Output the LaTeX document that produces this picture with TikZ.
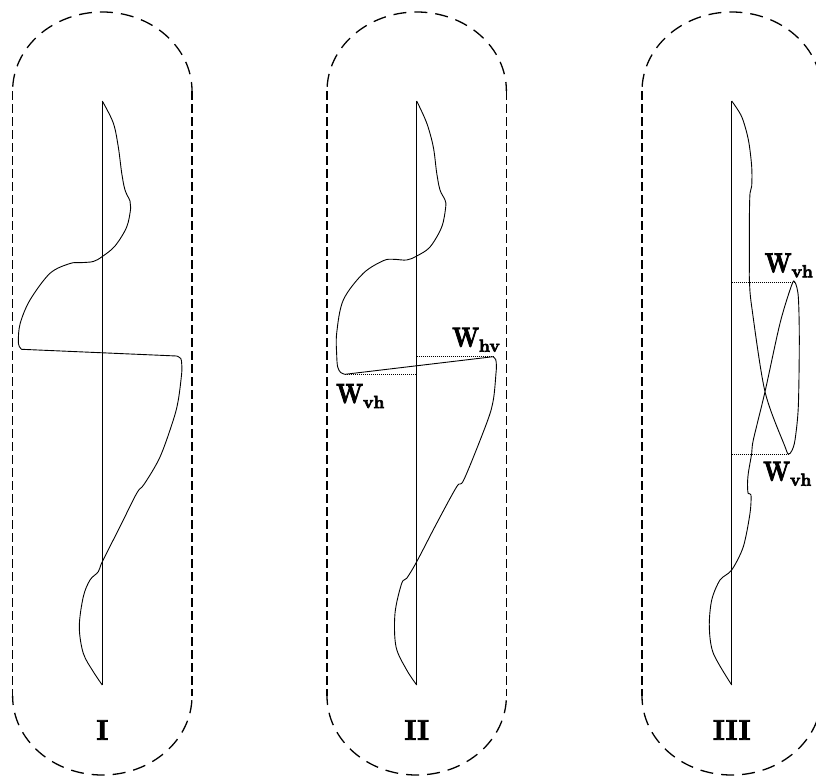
\documentclass[tikz,border=0pt]{standalone}
\usepackage{fontspec}
\usepackage{graphicx}
\newcommand\heavy[2]{\special{pdf:literal direct 2 Tr #1 w}#2\special{pdf:literal direct 0 Tr 1 w}}
\newcommand\Wsym{\scalebox{0.84}[1]{\bfseries\heavy{0.9}{W}}}
\newcommand\Wlab[1]{\fontsize{27.5}{29}\selectfont\Wsym\raisebox{-5pt}{\fontsize{17.5}{19}\selectfont\bfseries\heavy{0.6}{#1}}}
\newcommand\Numlab[1]{\fontsize{28.5}{30}\selectfont\bfseries\heavy{0.9}{#1}}
\tikzset{
  sideline/.style={draw, line width=1.3pt, dash pattern=on 8.5pt off 4.5pt},
  capline/.style={draw, line width=1.3pt, dash pattern=on 13pt off 8pt, dash phase=4pt},
  axisline/.style={draw, line width=1.3pt},
  profile/.style={draw, line width=0.9pt, line join=round},
  guide/.style={draw, line width=0.55pt, dash pattern=on 1pt off 1pt},
  numlab/.style={inner sep=0pt},
  wlab/.style={inner sep=0pt, anchor=base west}
}
\begin{document}
\begin{tikzpicture}[x=1pt, y=-1pt]
\useasboundingbox (0,0) rectangle (816,776);
\clip (0,0) rectangle (816,776);

% ---------- stadium outlines
\foreach \cx in {102.3, 416.7, 731.7} {
  \path[sideline] (\cx-89.7,91) -- (\cx-89.7,696);
  \path[sideline] (\cx+89.7,91) -- (\cx+89.7,696);
  \path[capline] (\cx-89.7,696)
     arc[start angle=180, end angle=0, x radius=89.7, y radius=79];
  \path[capline] (\cx+89.7,91)
     arc[start angle=0, end angle=-180, x radius=89.7, y radius=79];
}

% ---------- panel I
\begin{scope}[shift={(102.3,0)}]
  \coordinate (t1) at (0,101);
  \coordinate (b1) at (0,685);
  \path[axisline] (t1) -- (b1);
  \path[profile] plot[smooth, tension=0.55] coordinates {
    (0,101) (11,123) (16,147) (19.4,173) (22.7,190) (27.7,201) (28.4,208)
    (24.4,227) (12.7,246) (0,256.5) (-9,261.5) (-22.3,262.7) (-32.3,263.5)
    (-52.3,273.3) (-72.3,300) (-82,323) (-84,340) (-83,346.5) (-80.6,349.3)}
    -- plot[smooth, tension=0.55] coordinates {
    (74.4,356) (78.5,358.5) (79.4,364) (79.4,373) (76,400) (71,420)
    (57.7,457) (42,484) (34.4,493.3) (17.7,526.7) (0,561.7) (-4,571.7)
    (-12.3,580) (-19,596.7) (-23,626.7) (-19,653.3) (-9,671.7) (0,685)};
  \node[numlab] (n1) at (0,730) {\Numlab{I}};
\end{scope}

% ---------- panel II
\begin{scope}[shift={(416.7,0)}]
  \coordinate (t2) at (0,101);
  \coordinate (b2) at (0,685);
  \path[axisline] (t2) -- (b2);
  \path[profile] plot[smooth, tension=0.55] coordinates {
    (0,101) (10,123) (16.6,147) (20,173) (23.3,190) (28.3,200) (29,207)
    (25,227) (13.3,247) (0,256) (-10,260) (-23.4,259.3) (-33.4,260.7)
    (-53.4,273.3) (-73.4,300) (-80,333) (-80,355) (-79,367) (-76,372.5)
    (-71.7,374.3)}
    -- plot[smooth, tension=0.55] coordinates {
    (76.3,356.7) (79,359.5) (79.7,366) (79.3,373) (76.6,400) (70,423)
    (47.5,479) (40,486.7) (20,523.3) (0,561.7) (-10,578.3) (-15,583.3)
    (-21.7,613.3) (-20.7,646.7) (-10,670) (0,685)};
  \coordinate (h2a) at (0,356.7);
  \coordinate (h2b) at (76.3,356.7);
  \coordinate (v2a) at (-71.7,374.3);
  \coordinate (v2b) at (0,374.3);
  \path[guide] (h2a) -- (h2b);
  \path[guide] (v2a) -- (v2b);
  \node[numlab] (n2) at (0,730) {\Numlab{II}};
\end{scope}
\node[wlab] (whv) at (452,346.7) {\Wlab{hv}};
\node[wlab] (wvh2) at (336,403) {\Wlab{vh}};

% ---------- panel III
\begin{scope}[shift={(731.7,0)}]
  \coordinate (t3) at (0,101);
  \coordinate (b3) at (0,685);
  \path[axisline] (t3) -- (b3);
  \path[profile] plot[smooth, tension=0.5] coordinates {
    (0,101) (10,116.7) (16.7,140) (20,166.7) (20,186) (18.3,193.3)
    (17.7,216.7) (17.6,266.7) (17.8,282.3) (20,306.7) (33.3,391.7)
    (53.3,446.7) (56.6,454) (60,451) (63.3,440) (66.6,406.7) (67.6,340)
    (66.6,296.7) (63.3,282.3) (60,285) (48.3,323.3) (33.3,391.7)
    (21.6,440) (20,453.3) (16.6,473.3) (15.8,485) (16.5,493.5) (19.3,495)
    (18.3,513.3) (11.6,546.7) (0,570) (-11.7,580) (-20,600) (-22.4,626.7)
    (-18.4,653.3) (0,685)};
  \coordinate (h3a) at (0,282.3);
  \coordinate (h3b) at (63.3,282.3);
  \coordinate (v3a) at (0,454.3);
  \coordinate (v3b) at (56.6,454.3);
  \path[guide] (h3a) -- (h3b);
  \path[guide] (v3a) -- (v3b);
  \node[numlab] (n3) at (0,730) {\Numlab{III}};
\end{scope}
\node[wlab] (wvh3a) at (764.5,272.3) {\Wlab{vh}};
\node[wlab] (wvh3b) at (763,480.7) {\Wlab{vh}};
\end{tikzpicture}
\end{document}
